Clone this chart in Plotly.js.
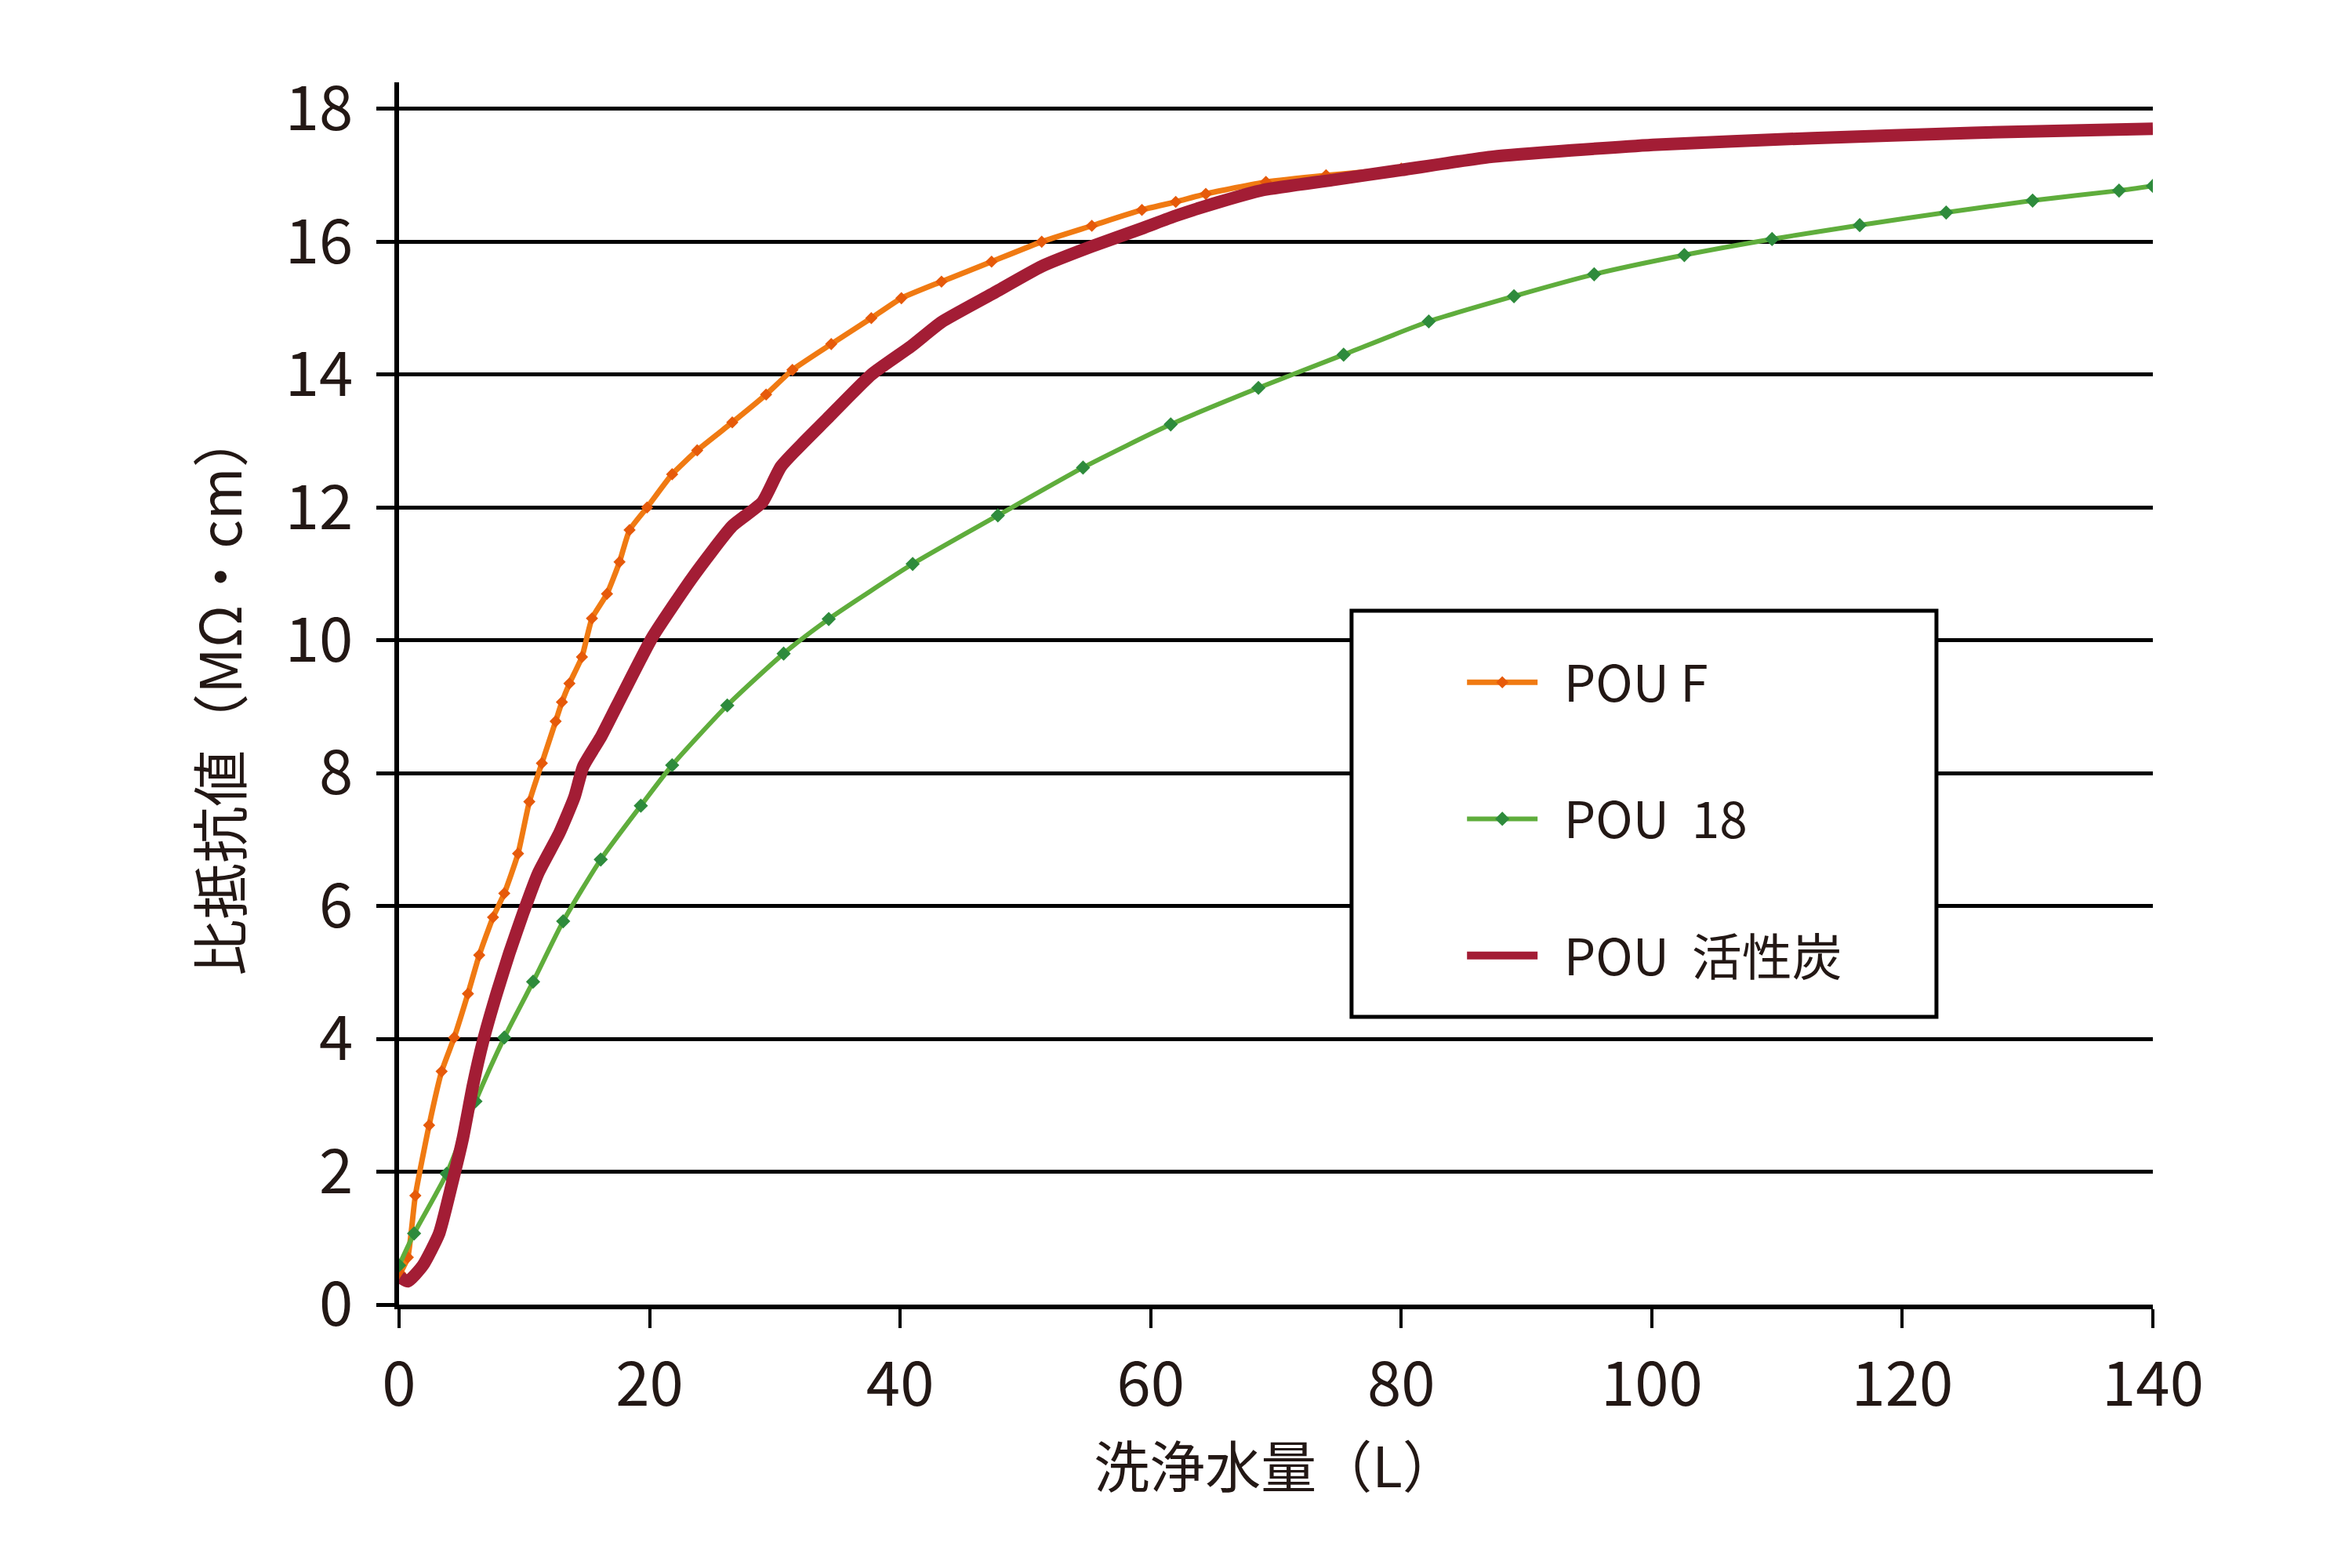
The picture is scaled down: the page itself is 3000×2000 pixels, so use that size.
<!DOCTYPE html>
<html>
<head>
<meta charset="utf-8">
<script src="https://cdn.plot.ly/plotly-3.0.1.min.js"></script>
<style>
  html, body { margin: 0; padding: 0; background: #ffffff; }
  #chart { width: 3000px; height: 2000px; }
</style>
</head>
<body>
<div id="chart"></div>
<script>
// ---- data ----
const seriesNames = ['\u00A0\u00A0POU F', '\u00A0\u00A0POU\u00A0\u00A018', '\u00A0\u00A0POU\u00A0\u00A0活性炭'];

const pouF_x = [0.1, 0.7, 1.3, 2.4, 3.4, 4.4, 5.5, 6.4, 7.5, 8.4, 9.5, 10.4, 11.4, 12.5, 13.0, 13.6, 14.6, 15.4, 16.6, 17.6, 18.4, 19.8, 21.8, 23.8, 26.6, 29.3, 31.4, 34.5, 37.7, 40.1, 43.3, 47.3, 51.3, 55.3, 59.3, 62.0, 64.4, 69.2, 74.0, 80.0];
const pouF_y = [0.47, 0.71, 1.64, 2.70, 3.51, 4.02, 4.68, 5.26, 5.83, 6.19, 6.79, 7.57, 8.15, 8.78, 9.07, 9.35, 9.75, 10.33, 10.70, 11.18, 11.66, 12.00, 12.50, 12.86, 13.28, 13.70, 14.07, 14.46, 14.85, 15.15, 15.40, 15.70, 16.00, 16.24, 16.48, 16.60, 16.72, 16.90, 17.00, 17.10];

const pou18_x = [0, 1.2, 3.8, 6.1, 8.4, 10.7, 13.1, 16.1, 19.3, 21.8, 26.2, 30.7, 34.3, 41.0, 47.8, 54.6, 61.6, 68.6, 75.4, 82.2, 89.0, 95.4, 102.6, 109.6, 116.6, 123.5, 130.4, 137.3, 140];
const pou18_y = [0.59, 1.07, 1.97, 3.06, 4.02, 4.86, 5.77, 6.70, 7.51, 8.12, 9.02, 9.80, 10.32, 11.15, 11.88, 12.60, 13.25, 13.80, 14.30, 14.80, 15.18, 15.51, 15.80, 16.04, 16.25, 16.44, 16.62, 16.77, 16.84];

const pouC_x = [0.1, 0.7, 1.9, 3.2, 4.2, 5.1, 5.9, 6.7, 7.8, 8.8, 9.9, 11.1, 12.8, 14.0, 14.7, 16.1, 17.4, 20.2, 23.4, 26.6, 29.0, 30.5, 34.2, 37.7, 40.9, 43.3, 47.3, 51.3, 55.3, 59.3, 62.0, 65.5, 69.0, 74.5, 80.0, 87.3, 100.1, 112.8, 125.6, 140];
const pouC_y = [0.41, 0.35, 0.59, 1.07, 1.80, 2.51, 3.30, 3.96, 4.69, 5.29, 5.89, 6.49, 7.10, 7.64, 8.10, 8.54, 9.02, 10.04, 10.94, 11.72, 12.08, 12.62, 13.34, 14.00, 14.43, 14.79, 15.21, 15.63, 15.93, 16.20, 16.39, 16.60, 16.78, 16.93, 17.08, 17.28, 17.46, 17.56, 17.64, 17.70];

const xTickVals = [0, 20, 40, 60, 80, 100, 120, 140];
const yTickVals = [0, 2, 4, 6, 8, 10, 12, 14, 16, 18];

const xTitle = '洗浄水量（L）';
const yTitle = '比抵抗値（MΩ・cm）';

// ---- styling ----
const FONT = '"Noto Sans CJK JP", "Noto Sans", sans-serif';
const INK = '#231815';

const traces = [
  {
    x: pouF_x, y: pouF_y, name: seriesNames[0], legendgroup: 'a',
    type: 'scatter', mode: 'lines+markers',
    line: { color: '#F07A12', width: 7, shape: 'spline', smoothing: 0.5 },
    marker: { color: '#E65A0A', size: 12, symbol: 'diamond' }
  },
  {
    x: pou18_x, y: pou18_y, name: seriesNames[1], legendgroup: 'b',
    type: 'scatter', mode: 'lines+markers',
    line: { color: '#5FAD3C', width: 6, shape: 'spline', smoothing: 0.6 },
    marker: { color: '#2E8B3C', size: 14, symbol: 'diamond' }
  },
  {
    x: pouC_x, y: pouC_y, name: seriesNames[2], legendgroup: 'c',
    type: 'scatter', mode: 'lines',
    line: { color: '#A31D35', width: 16, shape: 'spline', smoothing: 0.5 }
  }
];

const layout = {
  width: 3000, height: 2000,
  paper_bgcolor: '#ffffff', plot_bgcolor: '#ffffff',
  margin: { l: 509, r: 254, t: 105, b: 336, pad: 0 },
  font: { family: FONT, color: INK, size: 64 },
  showlegend: true,
  legend: {
    x: 0.6067, y: 0.54, xanchor: 'left', yanchor: 'top',
    bgcolor: 'rgba(0,0,0,0)', borderwidth: 0,
    font: { family: FONT, size: 64, color: INK },
    traceorder: 'grouped', tracegroupgap: 88,
    itemwidth: 90
  },
  xaxis: {
    range: [0, 140], tickvals: xTickVals,
    showgrid: false, zeroline: false,
    showline: true, linecolor: '#000000', linewidth: 6,
    ticks: 'outside', ticklen: 24, tickwidth: 4, tickcolor: '#000000',
    ticklabelstandoff: 5,
    tickfont: { family: FONT, size: 78, color: INK },
    title: { text: xTitle, font: { family: FONT, size: 71, color: INK }, standoff: 0 },
    fixedrange: true
  },
  yaxis: {
    range: [0, 18.4], tickvals: yTickVals,
    showgrid: true, gridcolor: '#000000', gridwidth: 5,
    zeroline: false,
    showline: true, linecolor: '#000000', linewidth: 6,
    ticks: 'outside', ticklen: 23, tickwidth: 5, tickcolor: '#000000',
    ticklabelstandoff: 14,
    tickfont: { family: FONT, size: 78, color: INK },
    title: { text: yTitle, font: { family: FONT, size: 72, color: INK }, standoff: 34 },
    fixedrange: true
  },
  shapes: [
    {
      type: 'rect', xref: 'paper', yref: 'paper', layer: 'above',
      x0: 0.5431, x1: 0.8766, y0: 0.2354, y1: 0.5677,
      fillcolor: '#ffffff', line: { color: '#000000', width: 5 }
    }
  ]
};

Plotly.newPlot('chart', traces, layout, { staticPlot: true, displayModeBar: false });
</script>
</body>
</html>
